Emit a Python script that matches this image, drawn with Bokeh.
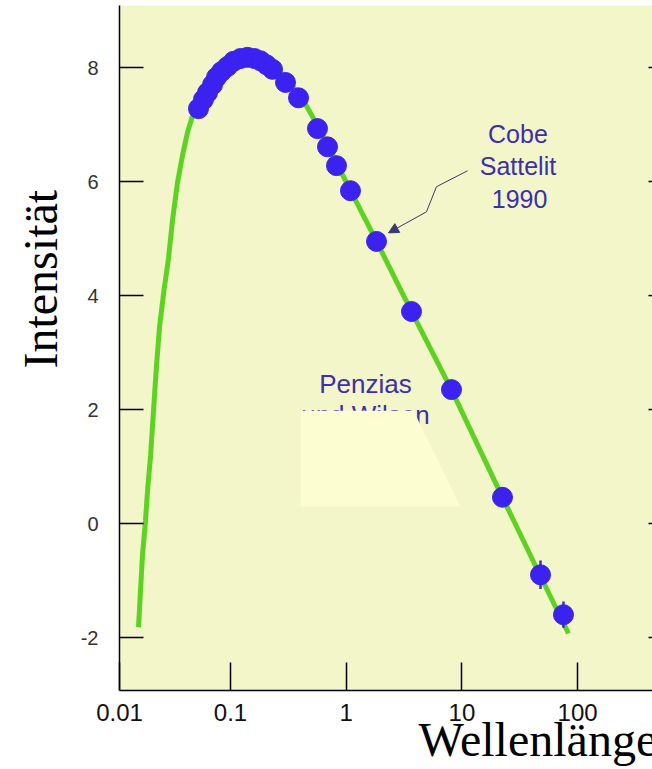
from bokeh.plotting import figure
from bokeh.models import (Title, FixedTicker, ColumnDataSource, Arrow,
                          NormalHead, CustomJSTickFormatter)
from bokeh.embed import file_html
from bokeh.resources import INLINE
from bokeh.core.properties import value

# Blackbody spectrum of the cosmic background: wavelength (cm) vs. log intensity
curve_wavelength = [0.01603, 0.01668, 0.01734, 0.01842, 0.01919, 0.02038,
                    0.02161, 0.02293, 0.02434, 0.0264, 0.0291, 0.03153, 0.0348,
                    0.03847, 0.04249, 0.0479, 0.0608, 0.082, 0.122, 0.1816,
                    0.270, 0.403, 0.600, 0.893, 1.83, 3.67, 8.12, 22.4, 46.9,
                    83.4]
curve_intensity = [-1.82, -1.18, -0.56, 0.05, 0.58, 1.19, 1.98, 2.77, 3.44,
                   4.04, 4.65, 5.32, 5.98, 6.46, 6.86, 7.21, 7.63, 7.98, 8.16,
                   8.12, 7.91, 7.51, 6.89, 6.19, 4.95, 3.72, 2.35, 0.46, -0.89,
                   -1.93]

# Measurements
meas_wavelength = [0.0529, 0.0584, 0.0633, 0.0699, 0.0757, 0.0836, 0.0942,
                   0.1061, 0.1220, 0.1402, 0.1612, 0.1817, 0.2047, 0.2307,
                   0.2988, 0.3871, 0.5648, 0.6893, 0.8244, 1.089, 1.828, 3.668,
                   8.13, 22.43, 47.8, 75.5]
meas_intensity = [7.28, 7.44, 7.56, 7.70, 7.83, 7.93, 8.02, 8.11, 8.16, 8.18,
                  8.16, 8.12, 8.05, 7.97, 7.74, 7.47, 6.93, 6.61, 6.28, 5.84,
                  4.95, 3.72, 2.35, 0.46, -0.90, -1.60]

# Error bars on the long-wavelength points
err_wavelength = [47.8, 75.5]
err_intensity = [-0.90, -1.60]
err_size = [0.25, 0.23]

# Callout arrow towards the 1990 satellite data (zig-zag path)
arrow_x = [11.18, 6.03, 4.94]
arrow_y = [6.19, 5.91, 5.47]
arrow_tip = (2.32, 5.10)

# Patch partly hiding the "Penzias und Wilson" label
patch_x = [0.403, 3.82, 9.73, 0.403]
patch_y = [1.98, 1.98, 0.30, 0.30]

x_ticks = [0.011, 0.1, 1, 10, 100]
x_tick_text = {0.011: "0.01", 0.1: "0.1", 1: "1", 10: "10", 100: "100"}
y_ticks = [-2, 0, 2, 4, 6, 8]

X_START, X_END = 0.01098, 444
BG = "#f2f6c9"
GREEN = "#5ad41e"
BLUE = "#3b22f0"
TEXT_BLUE = "#3c2fb0"
SANS = "Liberation Sans"
SERIF = "Liberation Serif"

p = figure(width=652, height=769, x_axis_type="log",
           x_range=(X_START, X_END), y_range=(-2.93, 9.09),
           output_backend="svg", toolbar_location=None,
           min_border_left=119, min_border_right=0,
           min_border_top=5, min_border_bottom=79)

p.background_fill_color = BG
p.border_fill_color = "white"
p.outline_line_color = None
p.grid.visible = False

# axes: ticks point into the plot
p.xaxis.ticker = FixedTicker(ticks=x_ticks)
p.xaxis.major_label_overrides = x_tick_text
p.xaxis.major_tick_in = 28
p.xaxis.major_tick_out = 0
p.xaxis.minor_tick_line_color = None
p.xaxis.major_label_standoff = 13
p.xaxis.major_label_text_font = SANS
p.xaxis.major_label_text_font_size = "24px"
p.xaxis.major_label_text_color = "#111111"

p.yaxis.ticker = FixedTicker(ticks=y_ticks)
p.yaxis.formatter = CustomJSTickFormatter(code="return tick.toString()")
p.yaxis.major_tick_in = 24
p.yaxis.major_tick_out = 0
p.yaxis.minor_tick_line_color = None
p.yaxis.major_label_standoff = 21
p.yaxis.major_label_text_font = SANS
p.yaxis.major_label_text_font_size = "20px"
p.yaxis.major_label_text_color = "#333333"

for ax in (p.xaxis, p.yaxis):
    ax.axis_line_color = "black"
    ax.axis_line_width = 1.5
    ax.major_tick_line_color = "black"
    ax.major_tick_line_width = 1.5

# short tick marks along the right edge
p.scatter([X_END] * len(y_ticks), y_ticks, marker="dash", size=8,
          line_color="black", line_width=1.5)

# fitted spectrum
p.line(curve_wavelength, curve_intensity, line_color=GREEN, line_width=5)

# error bars and data points
p.segment(x0=err_wavelength, y0=[v - e for v, e in zip(err_intensity, err_size)],
          x1=err_wavelength, y1=[v + e for v, e in zip(err_intensity, err_size)],
          line_color=BLUE, line_width=2.5)
p.scatter(meas_wavelength, meas_intensity, marker="circle", size=20,
          fill_color=BLUE, line_color=BLUE)

# satellite callout
cobe = ColumnDataSource(dict(x=[30.5, 30.5, 31.5], y=[6.84, 6.28, 5.70],
                             t=["Cobe", "Sattelit", "1990"]))
p.text(x="x", y="y", text="t", source=cobe, text_align="center",
       text_baseline="alphabetic", text_font=value(SANS),
       text_font_size="25px", text_color=TEXT_BLUE)
p.line(arrow_x, arrow_y, line_color="#3a3a70", line_width=1)
p.add_layout(Arrow(end=NormalHead(size=10, fill_color="#3a3a70",
                                  line_color="#3a3a70"),
                   x_start=arrow_x[-1], y_start=arrow_y[-1],
                   x_end=arrow_tip[0], y_end=arrow_tip[1],
                   line_color="#3a3a70", line_width=1))

# ground-based measurement label, partly covered
pw = ColumnDataSource(dict(x=[1.468, 1.468], y=[2.456, 1.90],
                           t=["Penzias", "und Wilson"]))
p.text(x="x", y="y", text="t", source=pw, text_align="center",
       text_baseline="alphabetic", text_font=value(SANS),
       text_font_size="26px", text_color=TEXT_BLUE)
p.patch(patch_x, patch_y, fill_color="#fdfdd2", line_color=None)

# axis titles
p.add_layout(Title(text="Intensität", align="left", offset=322,
                   vertical_align="bottom", standoff=22,
                   text_font=SERIF, text_font_size="48px",
                   text_font_style="normal", text_color="black"), "left")
p.add_layout(Title(text="Wellenlänge", align="left", offset=299,
                   vertical_align="top", standoff=-21,
                   text_font=SERIF, text_font_size="48px",
                   text_font_style="normal", text_color="black"), "below")

open("out.html", "w").write(file_html(p, INLINE))
